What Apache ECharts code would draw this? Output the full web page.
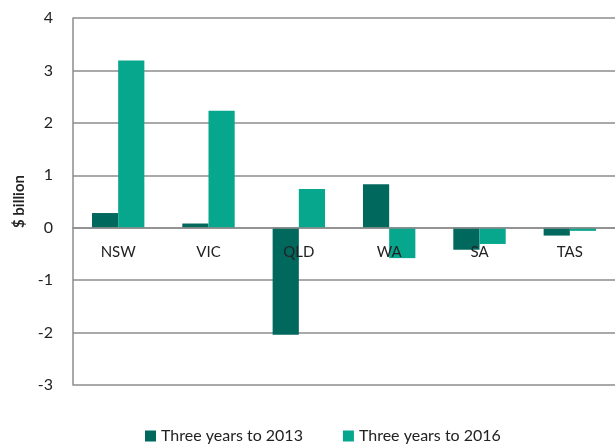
<!DOCTYPE html>
<html>
<head>
    <meta charset="UTF-8">
    <title>$ billion by state</title>
    <script src="https://cdn.jsdelivr.net/npm/echarts@6/dist/echarts.min.js"></script>
    <style>
        html, body { margin: 0; padding: 0; background: #fff; }
        #chartContainer { width: 615px; height: 445px; }
    </style>
</head>
<body>
<div id="chartContainer"></div>
<script>
    // 数据
    var states = ['NSW', 'VIC', 'QLD', 'WA', 'SA', 'TAS'];
    var to2013 = [0.28, 0.08, -2.04, 0.83, -0.42, -0.15];
    var to2016 = [3.19, 2.23, 0.74, -0.58, -0.31, -0.06];
    var seriesNames = ['Three years to 2013', 'Three years to 2016'];

    var font = 'Lato, "Open Sans", sans-serif';
    var myChart = echarts.init(document.getElementById('chartContainer'));
    var option = {
        animation: false,
        color: ['#00685D', '#07A78D'],
        textStyle: { fontFamily: font },
        grid: { left: 73, right: 0, top: 18, bottom: 60 },
        legend: {
            top: 423,
            left: 140,
            itemWidth: 11,
            itemHeight: 11,
            itemGap: 40,
            icon: 'rect',
            textStyle: { fontSize: 16, color: '#222', fontFamily: font },
            data: seriesNames
        },
        xAxis: {
            type: 'category',
            data: states,
            z: 5,
            axisLine: { onZero: true, lineStyle: { color: '#8c8c8c', width: 1.5 } },
            axisTick: { show: false },
            // 标签放在零线下方
            axisLabel: { fontSize: 15, color: '#222', margin: -140 }
        },
        yAxis: {
            type: 'value',
            min: -3,
            max: 4,
            interval: 1,
            name: '$ billion',
            nameLocation: 'middle',
            nameGap: 45,
            nameTextStyle: { fontSize: 15, fontWeight: 'bold', color: '#222' },
            axisLine: { show: true, lineStyle: { color: '#8c8c8c', width: 1.5 } },
            axisTick: { show: false },
            axisLabel: { fontSize: 16, color: '#222', margin: 20 },
            splitLine: { lineStyle: { color: '#8c8c8c', width: 1.5 } }
        },
        series: [
            {
                name: seriesNames[0],
                type: 'bar',
                data: to2013,
                barGap: 0,
                barCategoryGap: '42%'
            },
            {
                name: seriesNames[1],
                type: 'bar',
                data: to2016,
                barGap: 0,
                barCategoryGap: '42%'
            }
        ]
    };
    myChart.setOption(option);
</script>
</body>
</html>
